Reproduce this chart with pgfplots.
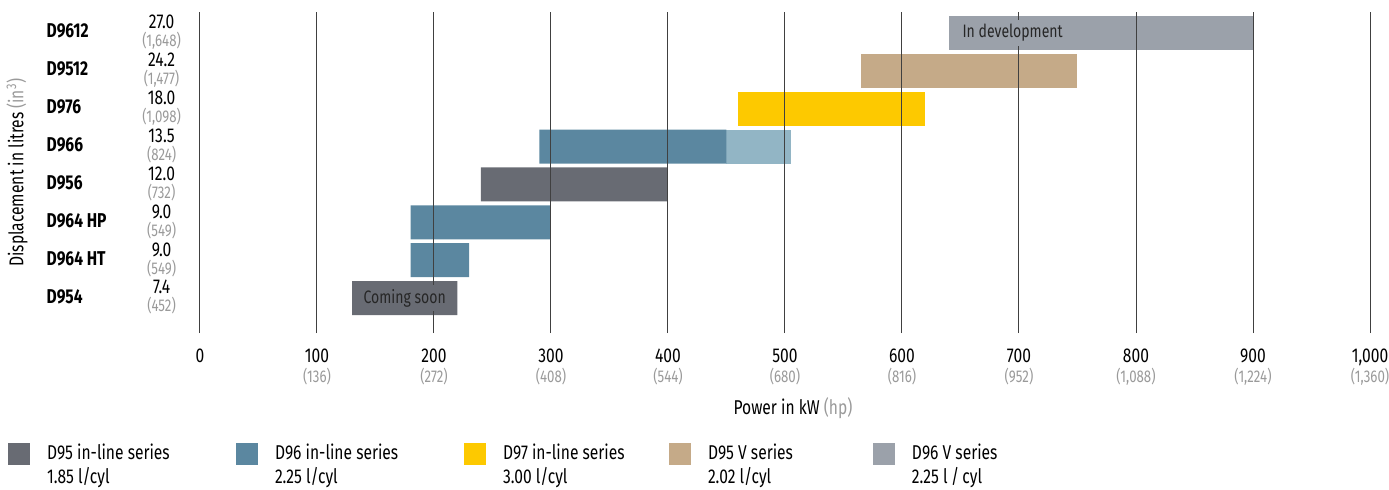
\documentclass[border=0pt]{standalone}
\usepackage{pgfplots}
\pgfplotsset{compat=1.18}
\usepackage{fontspec}
\setmainfont{Fira Sans}[FakeStretch=0.78]
\usetikzlibrary{calc}

\definecolor{dinline}{HTML}{686B73}
\definecolor{dsix}{HTML}{5B87A0}
\definecolor{dsixlt}{HTML}{92B5C5}
\definecolor{dseven}{HTML}{FDC900}
\definecolor{dvfive}{HTML}{C5AA88}
\definecolor{dvsix}{HTML}{9BA1AA}
\definecolor{hpgray}{HTML}{9A9A9A}

\newcommand{\hp}[1]{{\color{hpgray}\fontsize{8.5}{10}\selectfont(#1)}}
\newcommand{\ylab}[3]{\makebox[45pt][l]{\bfseries #1}\makebox[25pt][c]{\begin{tabular}{@{}c@{}}#2\\[-3pt]\hp{#3}\end{tabular}}}
\newcommand{\lent}[3]{\parbox[t]{#1}{#2\\#3}}

\begin{document}
\fontsize{10}{12}\selectfont
\begin{tikzpicture}
\begin{axis}[
  xbar stacked,
  bar width=17pt,
  width=585pt, height=160.5pt,
  scale only axis,
  xmin=0, xmax=1000,
  ymin=-0.92, ymax=7.55,
  axis on top,
  axis line style={draw=none},
  major tick length=0pt,
  tick style={draw=none},
  xmajorgrids,
  grid style={black!75, line width=0.5pt},
  xtick={0,100,...,1000},
  xticklabels={{0},{100\\[-2pt]\hp{136}},{200\\[-2pt]\hp{272}},{300\\[-2pt]\hp{408}},
    {400\\[-2pt]\hp{544}},{500\\[-2pt]\hp{680}},{600\\[-2pt]\hp{816}},{700\\[-2pt]\hp{952}},
    {800\\[-2pt]\hp{1,088}},{900\\[-2pt]\hp{1,224}},{1,000\\[-2pt]\hp{1,360}}},
  xticklabel style={align=center, inner sep=0pt, anchor=north, yshift=-8pt},
  ytick={0,...,7},
  yticklabels={
    {\ylab{D954}{7.4}{452}},
    {\ylab{D964 HT}{9.0}{549}},
    {\ylab{D964 HP}{9.0}{549}},
    {\ylab{D956}{12.0}{732}},
    {\ylab{D966}{13.5}{824}},
    {\ylab{D976}{18.0}{1,098}},
    {\ylab{D9512}{24.2}{1,477}},
    {\ylab{D9612}{27.0}{1,648}}},
  yticklabel style={anchor=east, inner sep=0pt, xshift=-6.5pt},
  xlabel={Power in kW {\color{hpgray}(hp)}},
  xlabel style={at={(axis description cs:0.5068,-0.2336)}, anchor=center},
  ylabel={Displacement in litres {\color{hpgray}(in\textsuperscript{3})}},
  ylabel style={at={(axis description cs:-0.1564,0.5)}, anchor=center},
  ser/.style={fill=#1, draw=none,
    legend image code/.code={\fill[#1] (0pt,-3pt) rectangle (11pt,8pt);}},
  legend style={at={(axis description cs:-0.1641,-0.3427)}, anchor=north west,
    draw=none, fill=none, inner sep=0pt, outer sep=0pt,
    nodes={inner sep=0pt, anchor=base west},
    /tikz/every odd column/.style={column sep=8.5pt}},
  legend columns=5,
]
% invisible start of each bar (D954 ... D9612)
\addplot[draw=none, fill=none, forget plot] coordinates
  {(130,0) (180,1) (180,2) (240,3) (290,4) (460,5) (565,6) (640,7)};
\addplot[ser=dinline] coordinates
  {(90,0) (0,1) (0,2) (160,3) (0,4) (0,5) (0,6) (0,7)};
\addplot[ser=dsix] coordinates
  {(0,0) (50,1) (120,2) (0,3) (160,4) (0,5) (0,6) (0,7)};
\addplot[ser=dsixlt, forget plot] coordinates
  {(0,0) (0,1) (0,2) (0,3) (55,4) (0,5) (0,6) (0,7)};
\addplot[ser=dseven] coordinates
  {(0,0) (0,1) (0,2) (0,3) (0,4) (160,5) (0,6) (0,7)};
\addplot[ser=dvfive] coordinates
  {(0,0) (0,1) (0,2) (0,3) (0,4) (0,5) (185,6) (0,7)};
\addplot[ser=dvsix] coordinates
  {(0,0) (0,1) (0,2) (0,3) (0,4) (0,5) (0,6) (260,7)};
\legend{\lent{94.5pt}{D95 in-line series}{1.85 l/cyl},
  \lent{94.5pt}{D96 in-line series}{2.25 l/cyl},
  \lent{83pt}{D97 in-line series}{3.00 l/cyl},
  \lent{82.5pt}{D95 V series}{2.02 l/cyl},
  \lent{60pt}{D96 V series}{2.25 l\,/\,cyl}}
\coordinate (dev) at (axis cs:648,7);
\coordinate (soon) at (axis cs:175,0);
\coordinate (O) at (rel axis cs:0,0);
\end{axis}
\node[fill=dvsix, anchor=west, inner sep=2pt, text=black!85, font=\fontsize{9}{10}\selectfont] at (dev) {In development};
\node[fill=dinline, anchor=center, inner sep=2pt, text=black!85, font=\fontsize{9}{10}\selectfont] at (soon) {Coming soon};
\pgfresetboundingbox
\path[use as bounding box] ($(O)+(-100pt,-78pt)$) rectangle ($(O)+(594.5pt,166.5pt)$);
\end{tikzpicture}
\end{document}
